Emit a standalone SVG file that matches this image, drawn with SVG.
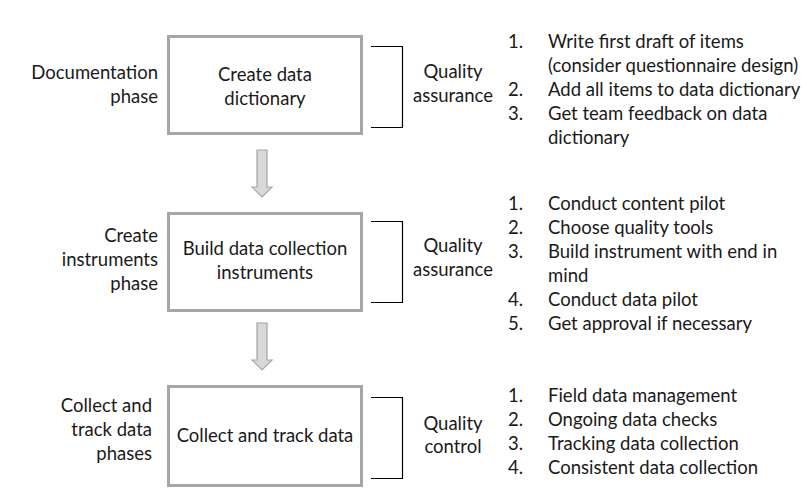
<svg xmlns="http://www.w3.org/2000/svg" width="807" height="496" viewBox="0 0 807 496">
<style>
text{font-family:Lato,"Liberation Sans",sans-serif;font-size:18.5px;fill:#1a1a1a}
.c{text-anchor:middle}
.r{text-anchor:end}
.box{fill:#fff;stroke:#a6a6a6;stroke-width:3}
.br{fill:none;stroke:#000;stroke-width:1.2}
.arr{fill:#d9d9d9;stroke:#a6a6a6;stroke-width:1.2}
</style>
<rect width="807" height="496" fill="#fff"/>
<g id="phase1-label">
<text class="r" x="158" y="79">Documentation</text>
<text class="r" x="158" y="103">phase</text>
</g>
<g id="node1">
<rect class="box" x="168.5" y="36.5" width="193" height="97"/>
<text class="c" x="265" y="81">Create data</text>
<text class="c" x="265" y="105">dictionary</text>
</g>
<g id="qa1">
<path class="br" d="M371,46.5H402.5V127.5H371"/>
<text class="c" x="453" y="78">Quality</text>
<text class="c" x="453" y="102">assurance</text>
</g>
<g id="list1">
<text x="508" y="48">1.</text><text x="548" y="48">Write first draft of items</text>
<text x="548" y="72">(consider questionnaire design)</text>
<text x="508" y="96">2.</text><text x="548" y="96">Add all items to data dictionary</text>
<text x="508" y="120">3.</text><text x="548" y="120">Get team feedback on data</text>
<text x="548" y="144">dictionary</text>
</g>
<g id="phase2-label">
<text class="r" x="158" y="242">Create</text>
<text class="r" x="158" y="266">instruments</text>
<text class="r" x="158" y="290">phase</text>
</g>
<g id="node2">
<rect class="box" x="168.5" y="213.5" width="193" height="97"/>
<text class="c" x="265" y="255">Build data collection</text>
<text class="c" x="265" y="279">instruments</text>
</g>
<g id="qa2">
<path class="br" d="M371,221.5H402.5V302.5H371"/>
<text class="c" x="453" y="252">Quality</text>
<text class="c" x="453" y="276">assurance</text>
</g>
<g id="list2">
<text x="508" y="210">1.</text><text x="548" y="210">Conduct content pilot</text>
<text x="508" y="234">2.</text><text x="548" y="234">Choose quality tools</text>
<text x="508" y="258">3.</text><text x="548" y="258">Build instrument with end in</text>
<text x="548" y="282">mind</text>
<text x="508" y="306">4.</text><text x="548" y="306">Conduct data pilot</text>
<text x="508" y="330">5.</text><text x="548" y="330">Get approval if necessary</text>
</g>
<g id="phase3-label">
<text class="r" x="152" y="412">Collect and</text>
<text class="r" x="152" y="436">track data</text>
<text class="r" x="152" y="460">phases</text>
</g>
<g id="node3">
<rect class="box" x="168.5" y="386.5" width="193" height="99"/>
<text class="c" x="265" y="442">Collect and track data</text>
</g>
<g id="qc3">
<path class="br" d="M371,397.5H402.5V478.5H371"/>
<text class="c" x="453" y="430">Quality</text>
<text class="c" x="453" y="453">control</text>
</g>
<g id="list3">
<text x="508" y="402">1.</text><text x="548" y="402">Field data management</text>
<text x="508" y="426">2.</text><text x="548" y="426">Ongoing data checks</text>
<text x="508" y="450">3.</text><text x="548" y="450">Tracking data collection</text>
<text x="508" y="474">4.</text><text x="548" y="474">Consistent data collection</text>
</g>
<g id="connectors">
<path class="arr" d="M257,150H267V187H272L262,197L252,187H257Z"/>
<path class="arr" d="M257,323H267V360H272L262,370L252,360H257Z"/>
</g>
</svg>
